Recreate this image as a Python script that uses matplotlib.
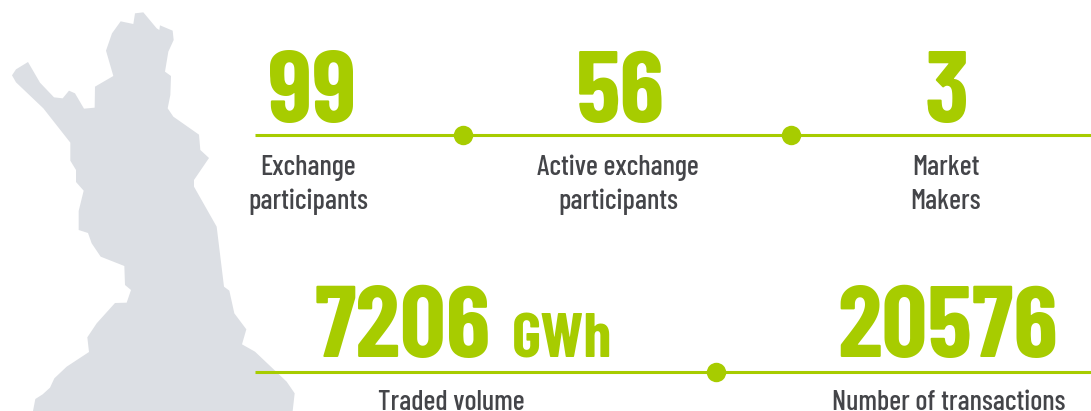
import matplotlib
matplotlib.use("Agg")
import matplotlib.pyplot as plt

W, H = 1091, 411
GREEN = "#A7CC00"
DARK = "#444549"
GREY = "#DCDFE4"
FAM = ["Barlow Condensed", "Roboto", "DejaVu Sans"]

map_outline = [(36,226),(48,208),(84,186),(120,248),(162,292),(188,295),(207,272),(225,280),(252,326),(284,323),
 (285,260),(340,228),(318,152),(336,100),(362,64),(400,72),(405,40),(430,37),(470,85),(478,90),(480,76),(518,92),
 (521,120),(505,155),(495,215),(513,228),(511,285),(503,325),(520,350),(597,404),(601,450),(627,474),(582,540),
 (582,560),(650,680),(672,860),(688,872),(703,940),(739,988),(726,1033),(765,1055),(860,1145),(884,1180),(878,1233),
 (99,1233),(106,1197),(128,1183),(150,1163),(163,1135),(200,1100),(267,1056),(262,1012),(290,970),(345,909),(380,908),
 (393,870),(375,855),(373,798),(302,770),(275,730),(264,699),(236,690),(236,633),(251,572),(228,546),(228,510),
 (211,482),(211,428),(130,325),(48,247)]

values_top = ["99", "56", "3"]
labels_top = ["Exchange\nparticipants", "Active exchange\nparticipants", "Market\nMakers"]
values_bottom = ["7206", "20576"]
labels_bottom = ["Traded volume", "Number of transactions"]
unit = "GWh"

fig = plt.figure(figsize=(W/100, H/100), dpi=100)
ax = fig.add_axes([0, 0, 1, 1])
ax.set_xlim(0, W); ax.set_ylim(H, 0); ax.axis("off")

ax.fill([p[0]/3 for p in map_outline], [p[1]/3 for p in map_outline], color=GREY, lw=0, zorder=1)

for y in (135.5, 371.5):
    ax.plot([255, W], [y, y], color=GREEN, lw=2.2, solid_capstyle="butt", zorder=2)
for x, y in [(463, 135), (791, 135), (716, 372)]:
    ax.plot([x], [y], "o", color=GREEN, ms=14, mew=0, zorder=3)

big = dict(ha="center", va="baseline", family=FAM, weight="bold", size=73, color=GREEN)
lab = dict(ha="center", va="baseline", family=FAM, weight="medium", size=20.4, color=DARK)

for x, v in zip((312, 620, 947), values_top):
    ax.text(x, 122, v, **big)
for x, t in zip((308, 618, 946), labels_top):
    a, b = t.split("\n")
    ax.text(x, 175, a, **lab)
    ax.text(x, 209, b, **lab)

ax.text(403, 357, values_bottom[0], **big)
ax.text(562, 357, unit, **{**big, "size": 45})
ax.text(948, 357, values_bottom[1], **big)
for x, t in zip((451, 949), labels_bottom):
    ax.text(x, 409.5, t, **lab)

fig.savefig("out.png", dpi=100)
